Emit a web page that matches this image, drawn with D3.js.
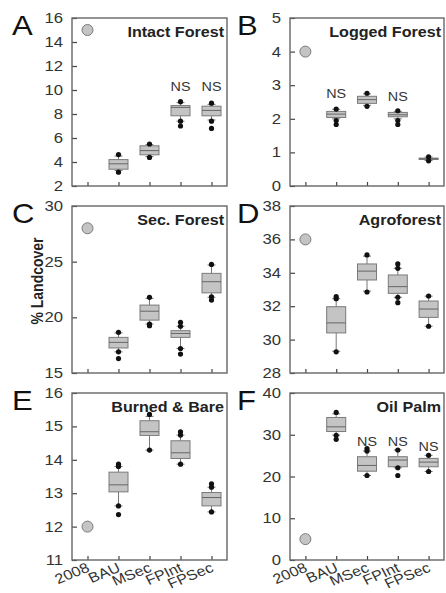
<!DOCTYPE html>
<html><head><meta charset="utf-8">
<script src="https://cdn.jsdelivr.net/npm/d3@7"></script>
<style>body{margin:0;background:#fff}svg{display:block}text{font-family:"Liberation Sans",Arial,sans-serif}</style>
</head><body><div id="chart"></div>
<script>
const categories = ["2008","BAU","MSec","FPInt","FPSec"];

// each box: [whiskerLow, q1, median, q3, whiskerHigh] for BAU, MSec, FPInt, FPSec
const intactBase = 15;
const intactStats = [[3.3,3.4,3.85,4.2,4.5],[4.45,4.6,4.95,5.35,5.45],[7.4,7.85,8.55,8.7,8.95],[7.5,7.85,8.3,8.65,8.8]];
const intactDots = [[4.62,3.15],[5.5,4.38],[9.03,7.4,7.0],[8.9,7.4,6.8]];
const intactNS = [null,null,9.9,9.9];
const intactTicks = [2,4,6,8,10,12,14,16];

const loggedBase = 4;
const loggedStats = [[2.0,2.04,2.14,2.22,2.28],[2.4,2.46,2.57,2.67,2.74],[2.0,2.06,2.12,2.19,2.22],[0.76,0.79,0.81,0.83,0.86]];
const loggedDots = [[2.29,1.95,1.83],[2.76,2.37],[2.24,1.95,1.83],[0.87,0.75]];
const loggedNS = [2.62,null,2.53,null];
const loggedTicks = [0,1,2,3,4,5];

const secBase = 28;
const secStats = [[16.9,17.25,17.75,18.2,18.6],[19.4,19.75,20.55,21.1,21.7],[17.2,18.2,18.55,18.8,19.2],[21.8,22.2,23.2,23.95,24.7]];
const secDots = [[18.65,16.9,16.3],[21.8,19.4,19.25],[19.55,19.2,17.2,16.7],[24.75,21.85,21.55]];
const secNS = [null,null,null,null];
const secTicks = [15,20,25,30];

const agroBase = 36;
const agroStats = [[29.3,30.4,31.0,31.97,32.45],[32.9,33.57,34.1,34.53,35.0],[32.53,32.77,33.17,33.87,34.27],[30.8,31.33,31.83,32.31,32.6]];
const agroDots = [[32.57,32.45,29.27],[35.07,32.85],[34.53,34.27,32.53,32.21],[32.61,30.8]];
const agroNS = [null,null,null,null];
const agroTicks = [28,30,32,34,36,38];

const burnedBase = 12;
const burnedStats = [[12.62,13.04,13.25,13.63,13.8],[14.29,14.73,14.84,15.17,15.3],[13.87,14.04,14.21,14.57,14.74],[12.44,12.62,12.87,13.02,13.18]];
const burnedDots = [[13.87,13.8,12.62,12.36],[15.36,14.29],[14.84,14.74,13.87],[13.28,13.18,12.44]];
const burnedNS = [null,null,null,null];
const burnedTicks = [11,12,13,14,15,16];

const palmBase = 5;
const palmStats = [[29.9,30.77,31.9,34.14,35.0],[20.24,21.27,22.65,24.74,26.1],[22.1,22.33,23.94,24.74,26.35],[21.2,22.33,23.45,24.34,25.06]];
const palmDots = [[35.34,29.88,28.9],[26.67,26.1,20.24],[26.35,22.1,20.24],[25.06,21.2]];
const palmNS = [null,27.2,27.2,26.0];
const palmTicks = [0,10,20,30,40];

const panels = [
  {letter:"A",title:"Intact Forest",base:intactBase,stats:intactStats,dots:intactDots,ns:intactNS,ticks:intactTicks,col:0,row:0},
  {letter:"B",title:"Logged Forest",base:loggedBase,stats:loggedStats,dots:loggedDots,ns:loggedNS,ticks:loggedTicks,col:1,row:0},
  {letter:"C",title:"Sec. Forest",base:secBase,stats:secStats,dots:secDots,ns:secNS,ticks:secTicks,col:0,row:1},
  {letter:"D",title:"Agroforest",base:agroBase,stats:agroStats,dots:agroDots,ns:agroNS,ticks:agroTicks,col:1,row:1},
  {letter:"E",title:"Burned & Bare",base:burnedBase,stats:burnedStats,dots:burnedDots,ns:burnedNS,ticks:burnedTicks,col:0,row:2},
  {letter:"F",title:"Oil Palm",base:palmBase,stats:palmStats,dots:palmDots,ns:palmNS,ticks:palmTicks,col:1,row:2}
];

const W = 446, H = 593, SX = 1.15;
const colX = [[72,227],[290,444]];
const rowY = [[18,186],[206,373],[393,560]];

const svg = d3.select("#chart").append("svg").attr("width",W).attr("height",H);

function txt(g, x, y, s, size, anchor, opts={}) {
  const t = g.append("text")
    .attr("transform", `translate(${x},${y}) scale(${SX},1)` + (opts.rotate ? ` rotate(${opts.rotate})` : ""))
    .attr("font-size", size).attr("text-anchor", anchor)
    .attr("fill", opts.fill || "#222").text(s);
  if (opts.bold) t.attr("font-weight","bold");
  return t;
}

panels.forEach(p => {
  const [x0,x1] = colX[p.col], [y0,y1] = rowY[p.row];
  const x = d3.scalePoint().domain(categories).range([x0,x1]).padding(0.5);
  const y = d3.scaleLinear().domain([p.ticks[0], p.ticks[p.ticks.length-1]]).range([y1,y0]);
  const g = svg.append("g");

  // y axis (inward ticks)
  const ya = g.append("g").attr("transform",`translate(${x0},0)`)
    .call(d3.axisRight(y).tickValues(p.ticks).tickSize(5).tickFormat(""));
  ya.select(".domain").remove();
  ya.selectAll("line").attr("stroke","#444").attr("stroke-width",1.2);
  p.ticks.forEach(t => txt(g, x0-9, y(t)+5, String(t), 14.5, "end", {fill:"#333"}));

  // x axis (inward ticks)
  const xa = g.append("g").attr("transform",`translate(0,${y1})`)
    .call(d3.axisTop(x).tickSize(4).tickFormat(""));
  xa.select(".domain").remove();
  xa.selectAll("line").attr("stroke","#444").attr("stroke-width",1.2);
  if (p.row === 2) {
    categories.forEach(c => txt(g, x(c)+3, y1+11, c, 14, "end", {fill:"#333", rotate:-25}));
  }

  // frame
  g.append("rect").attr("x",x0).attr("y",y0).attr("width",x1-x0).attr("height",y1-y0)
    .attr("fill","none").attr("stroke","#666").attr("stroke-width",1.4);

  // 2008 point
  g.append("circle").attr("cx",x(categories[0])).attr("cy",y(p.base)).attr("r",5.5)
    .attr("fill","#c4c4c4").attr("stroke","#7a7a7a").attr("stroke-width",1);

  const bw = 19, cw = 8;
  p.stats.forEach((s,i) => {
    const cx = x(categories[i+1]);
    const [lo,q1,med,q3,hi] = s;
    const b = g.append("g");
    b.append("line").attr("x1",cx).attr("x2",cx).attr("y1",y(hi)).attr("y2",y(q3)).attr("stroke","#777");
    b.append("line").attr("x1",cx).attr("x2",cx).attr("y1",y(q1)).attr("y2",y(lo)).attr("stroke","#777");
    [lo,hi].forEach(v => b.append("line").attr("x1",cx-cw/2).attr("x2",cx+cw/2).attr("y1",y(v)).attr("y2",y(v)).attr("stroke","#777"));
    b.append("rect").attr("x",cx-bw/2).attr("y",y(q3)).attr("width",bw).attr("height",Math.max(1,y(q1)-y(q3)))
      .attr("fill","#c4c4c4").attr("stroke","#7a7a7a").attr("stroke-width",1);
    b.append("line").attr("x1",cx-bw/2).attr("x2",cx+bw/2).attr("y1",y(med)).attr("y2",y(med)).attr("stroke","#666");
    p.dots[i].forEach(v => b.append("circle").attr("cx",cx).attr("cy",y(v)).attr("r",2.6).attr("fill","#111"));
    if (p.ns[i] != null) txt(g, cx, y(p.ns[i]), "NS", 12.5, "middle", {fill:"#333"});
  });

  // title
  txt(g, x1-3, y0+19, p.title, 14, "end", {bold:true, fill:"#222"});
  // panel letter
  txt(g, p.col===0 ? 12 : 237, y0+17, p.letter, 27, "start", {fill:"#111"});
});

// y label
svg.append("text").attr("transform",`translate(43,281) scale(${SX},1) rotate(-90)`)
  .attr("font-size",14).attr("font-weight","bold").attr("text-anchor","middle").attr("fill","#222")
  .text("% Landcover");
</script></body></html>
